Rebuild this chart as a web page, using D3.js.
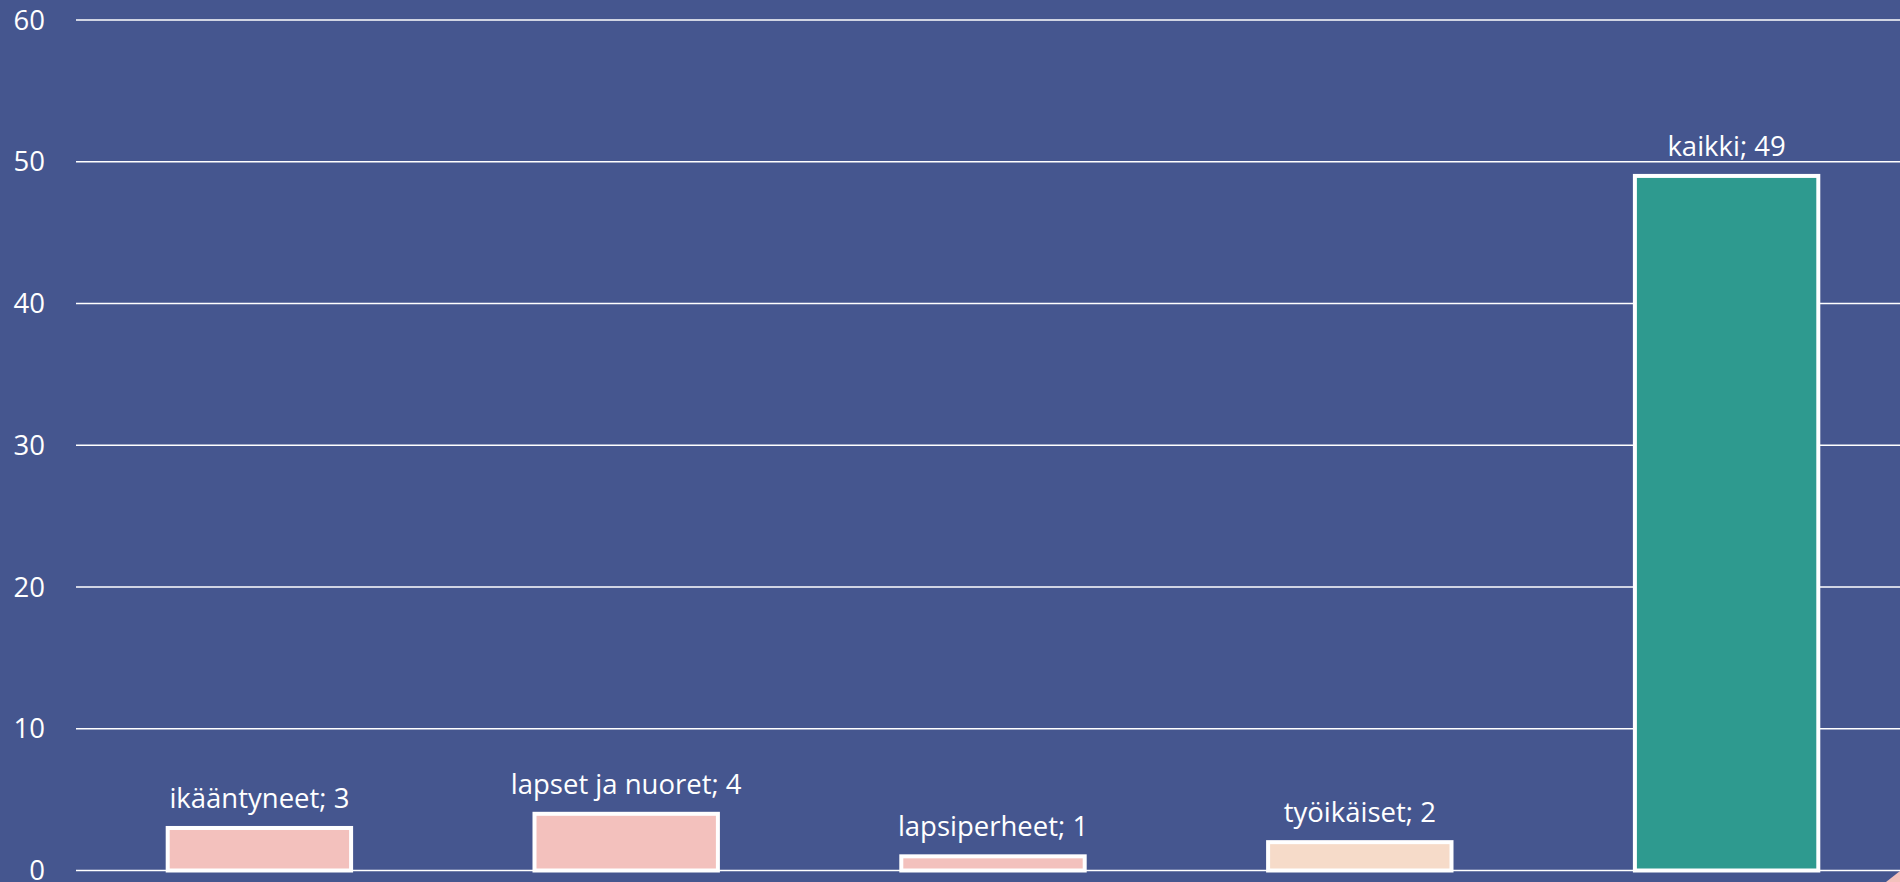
<!DOCTYPE html>
<html>
<head>
<meta charset="utf-8">
<script src="https://cdn.jsdelivr.net/npm/d3@7"></script>
<style>
    html, body { margin: 0; padding: 0; background: #45568f; overflow: hidden; }
    .chart_text { font-family: 'Open Sans', sans-serif; font-size: 27.5px; fill: #ffffff; }
</style>
</head>
<body>
<div id="chart"></div>
<script>
// chart data
const categories = ['ikääntyneet', 'lapset ja nuoret', 'lapsiperheet', 'työikäiset', 'kaikki'];
const values = [3, 4, 1, 2, 49];
const barColors = ['#f3c1bd', '#f3c1bd', '#f3c1bd', '#f6dbc9', '#2e9a8f'];
const yTicks = [0, 10, 20, 30, 40, 50, 60];

const width = 1900, height = 882;
const margin = [20, 11.5, 76, -10]; // top, bottom, left, right

const svg = d3.select('#chart')
    .append('svg')
    .attr('width', width)
    .attr('height', height);

svg.append('rect')
    .attr('width', width)
    .attr('height', height)
    .attr('fill', '#45568f');

let scaleX = d3.scaleBand(categories, [margin[2], width - margin[3]])
    .paddingInner(0.5)
    .paddingOuter(0.25);
let scaleY = d3.scaleLinear([0, 60], [height - margin[1], margin[0]]);

// gridlines
svg.append('g')
    .selectAll('line')
    .data(yTicks)
    .join('line')
    .attr('x1', margin[2])
    .attr('x2', width)
    .attr('y1', d => scaleY(d))
    .attr('y2', d => scaleY(d))
    .attr('stroke', '#ffffff')
    .attr('stroke-width', 1.6);

// y axis labels
svg.append('g')
    .selectAll('text')
    .data(yTicks)
    .join('text')
    .classed('chart_text', true)
    .attr('x', 45)
    .attr('y', d => scaleY(d))
    .attr('dy', '0.35em')
    .attr('text-anchor', 'end')
    .text(d => d);

const data = categories.map((c, i) => [c, values[i], barColors[i]]);

// bars
svg.append('g')
    .selectAll('rect.bar')
    .data(data)
    .join('rect')
    .classed('bar', true)
    .attr('x', d => scaleX(d[0]))
    .attr('y', d => scaleY(d[1]))
    .attr('width', scaleX.bandwidth())
    .attr('height', d => scaleY(0) - scaleY(d[1]))
    .attr('fill', d => d[2])
    .attr('stroke', '#ffffff')
    .attr('stroke-width', 4);

// value labels
svg.append('g')
    .selectAll('text')
    .data(data)
    .join('text')
    .classed('chart_text', true)
    .attr('x', d => scaleX(d[0]) + scaleX.bandwidth() / 2)
    .attr('y', d => scaleY(d[1]) - 20)
    .attr('text-anchor', 'middle')
    .text(d => `${d[0]}; ${d[1]}`);

// corner decoration
svg.append('path')
    .attr('d', `M${width - 14},${height} L${width},${height - 11} L${width},${height} Z`)
    .attr('fill', '#f3c1bd');
</script>
</body>
</html>
